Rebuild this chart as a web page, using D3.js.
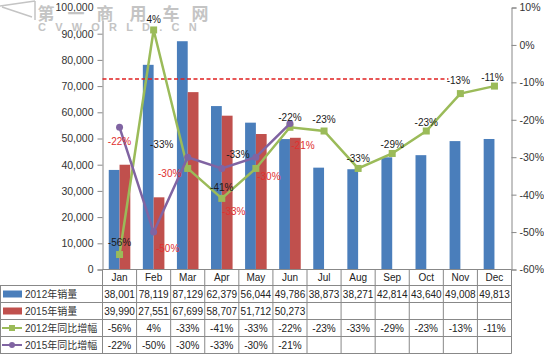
<!DOCTYPE html>
<html><head><meta charset="utf-8">
<script src="https://cdn.jsdelivr.net/npm/d3@7"></script>
<style>body{margin:0;background:#fff}svg{display:block}</style>
</head><body><svg id="c" width="544" height="355"></svg>
<script>
const months = ["Jan","Feb","Mar","Apr","May","Jun","Jul","Aug","Sep","Oct","Nov","Dec"];
const sales2012 = [38001,78119,87129,62379,56044,49786,38873,38271,42814,43640,49008,49813];
const sales2015 = [39990,27551,67699,58707,51712,50273];
const yoy2012 = [-56,4,-33,-41,-33,-22,-23,-33,-29,-23,-13,-11];
const yoy2015 = [-22,-50,-30,-33,-30,-21];
const leftTicks = [0,10000,20000,30000,40000,50000,60000,70000,80000,90000,100000];
const rightTicks = [10,0,-10,-20,-30,-40,-50,-60];
const refValue = 72700;
const seriesNames = ["2012年销量","2015年销量","2012年同比增幅","2015年同比增幅"];
// label offsets (layout only)
const off2012 = [[0,-12],[0,-10],[-26,-24],[0,-11],[-18,-14],[0,-10],[0,-12],[0,-10],[0,-9],[0,-9],[-2,-13],[-2,-9]];
const off2015 = [[0,14],[14,16],[-18,16],[12,43],[13,19],[13,22]];

const C = {blue:"#4a7ebb", red:"#c0504d", green:"#9bbb59", purple:"#8064a2"};
const svg = d3.select("#c");
svg.append("rect").attr("width",544).attr("height",355).attr("fill","#fff");

const L = 102.5, R = 511.5, T = 7.5, B = 269.5;
const x = d3.scaleBand().domain(months).range([L, R]).padding(0);
const sub = d3.scaleBand().domain(["a","b"]).range([0, x.bandwidth()]).paddingOuter(0.58).paddingInner(0);
const yL = d3.scaleLinear().domain([0,100000]).range([B, T]);
const yR = d3.scaleLinear().domain([-60,10]).range([B, T]);
const font = "'Liberation Sans', Arial, sans-serif";
const cjk = "'Liberation Sans', 'Noto Sans CJK SC', sans-serif";

// axes
const axL = svg.append("g").attr("transform",`translate(${L},0)`)
  .call(d3.axisLeft(yL).tickValues(leftTicks).tickSize(5).tickPadding(4).tickFormat(d3.format(",")));
const axR = svg.append("g").attr("transform",`translate(${R},0)`)
  .call(d3.axisRight(yR).tickValues(rightTicks).tickSize(5).tickPadding(3).tickFormat(d => d + "%"));
[axL, axR].forEach(a => {
  a.select(".domain").attr("stroke","#888");
  a.selectAll(".tick line").attr("stroke","#888");
  a.selectAll("text").attr("font-family",font).attr("font-size",10.5).attr("fill","#333");
});

// bars
svg.append("g").selectAll("rect").data(sales2012).join("rect")
  .attr("x",(d,i)=>x(months[i])+sub("a")).attr("width",sub.bandwidth())
  .attr("y",d=>yL(d)).attr("height",d=>B-yL(d)).attr("fill",C.blue);
svg.append("g").selectAll("rect").data(sales2015).join("rect")
  .attr("x",(d,i)=>x(months[i])+sub("b")).attr("width",sub.bandwidth())
  .attr("y",d=>yL(d)).attr("height",d=>B-yL(d)).attr("fill",C.red);

// reference dashed line
svg.append("line").attr("x1",L).attr("x2",x("Nov")+x.bandwidth()*0.15)
  .attr("y1",yL(refValue)).attr("y2",yL(refValue))
  .attr("stroke","#e02020").attr("stroke-width",1.6).attr("stroke-dasharray","4,2.5");

const cx = i => x(months[i]) + x.bandwidth()/2;
const line = d3.line().x((d,i)=>cx(i)).y(d=>yR(d));
svg.append("path").datum(yoy2012).attr("d",line).attr("fill","none").attr("stroke",C.green).attr("stroke-width",2.5);
svg.append("g").selectAll("rect").data(yoy2012).join("rect")
  .attr("x",(d,i)=>cx(i)-3.5).attr("y",d=>yR(d)-3.5).attr("width",7).attr("height",7).attr("fill",C.green);
svg.append("path").datum(yoy2015).attr("d",line).attr("fill","none").attr("stroke",C.purple).attr("stroke-width",2.5);
svg.append("g").selectAll("circle").data(yoy2015).join("circle")
  .attr("cx",(d,i)=>cx(i)).attr("cy",d=>yR(d)).attr("r",3.5).attr("fill",C.purple);

// data labels
svg.append("g").selectAll("text").data(yoy2012).join("text")
  .attr("x",(d,i)=>cx(i)+off2012[i][0]).attr("y",(d,i)=>yR(d)+off2012[i][1])
  .attr("dy","0.35em").attr("text-anchor","middle").attr("font-family",font).attr("font-size",10)
  .attr("fill","#1a1a1a").text(d=>d+"%");
svg.append("g").selectAll("text").data(yoy2015).join("text")
  .attr("x",(d,i)=>cx(i)+off2015[i][0]).attr("y",(d,i)=>yR(d)+off2015[i][1])
  .attr("dy","0.35em").attr("text-anchor","middle").attr("font-family",font).attr("font-size",10)
  .attr("fill","#e03030").text(d=>d+"%");

// data table
const rowY = [269.5, 285.5, 302.5, 319.5, 336.5, 353.5];
const tg = svg.append("g").attr("stroke","#888").attr("stroke-width",1);
rowY.forEach((y,i)=>{ tg.append("line").attr("x1", i===0 ? L : 0).attr("x2",R).attr("y1",y).attr("y2",y); });
months.forEach((m,i)=>{ tg.append("line").attr("x1",x(m)).attr("x2",x(m)).attr("y1",B).attr("y2",rowY[5]); });
tg.append("line").attr("x1",R).attr("x2",R).attr("y1",B).attr("y2",rowY[5]);
tg.append("line").attr("x1",0.5).attr("x2",0.5).attr("y1",rowY[1]).attr("y2",rowY[5]);

const rows = [
  months,
  sales2012.map(d3.format(",")),
  sales2015.map(d3.format(",")),
  yoy2012.map(d=>d+"%"),
  yoy2015.map(d=>d+"%")
];
rows.forEach((r,ri)=>{
  svg.append("g").selectAll("text").data(r).join("text")
    .attr("x",(d,i)=>cx(i)).attr("y",(rowY[ri]+rowY[ri+1])/2).attr("dy","0.36em")
    .attr("text-anchor","middle").attr("font-family",font).attr("font-size",10).attr("fill","#222").text(d=>d);
});

// legend cells
const lg = svg.append("g");
seriesNames.forEach((n,i)=>{
  const yc = (rowY[i+1]+rowY[i+2])/2;
  if (i<2) lg.append("rect").attr("x",3).attr("y",yc-3.5).attr("width",19).attr("height",7).attr("fill", i===0?C.blue:C.red);
  else {
    const col = i===2?C.green:C.purple;
    lg.append("line").attr("x1",2).attr("x2",22).attr("y1",yc).attr("y2",yc).attr("stroke",col).attr("stroke-width",2);
    if (i===2) lg.append("rect").attr("x",9).attr("y",yc-3).attr("width",6).attr("height",6).attr("fill",col);
    else lg.append("circle").attr("cx",12).attr("cy",yc).attr("r",3).attr("fill",col);
  }
  lg.append("text").attr("x",25).attr("y",yc).attr("dy","0.36em").attr("font-family",cjk)
    .attr("font-size",10).attr("fill","#333").text(n);
});

// watermark
const wm = svg.append("g").attr("fill","#c4c4c4").attr("stroke","#fff").attr("stroke-width",0.6).attr("paint-order","stroke");
wm.append("path").attr("d","M0,6 L35,1 M2,7 L32,17 M35,1 L35,20").attr("fill","none").attr("stroke","#c4c4c4").attr("stroke-width",1.5);
["第","一","商","用","车","网"].forEach((ch,i)=>{
  wm.append("text").attr("x",[46,76,105,138,171,200][i]).attr("y",20).attr("text-anchor","middle")
    .attr("font-family","'Noto Sans CJK SC', sans-serif").attr("font-size",17).attr("font-weight","bold").text(ch);
});
wm.append("text").attr("x",38).attr("y",31).attr("font-family",font).attr("font-size",11).attr("font-weight","bold")
  .attr("letter-spacing",9.2).text("CVWORLD.CN");
</script></body></html>
